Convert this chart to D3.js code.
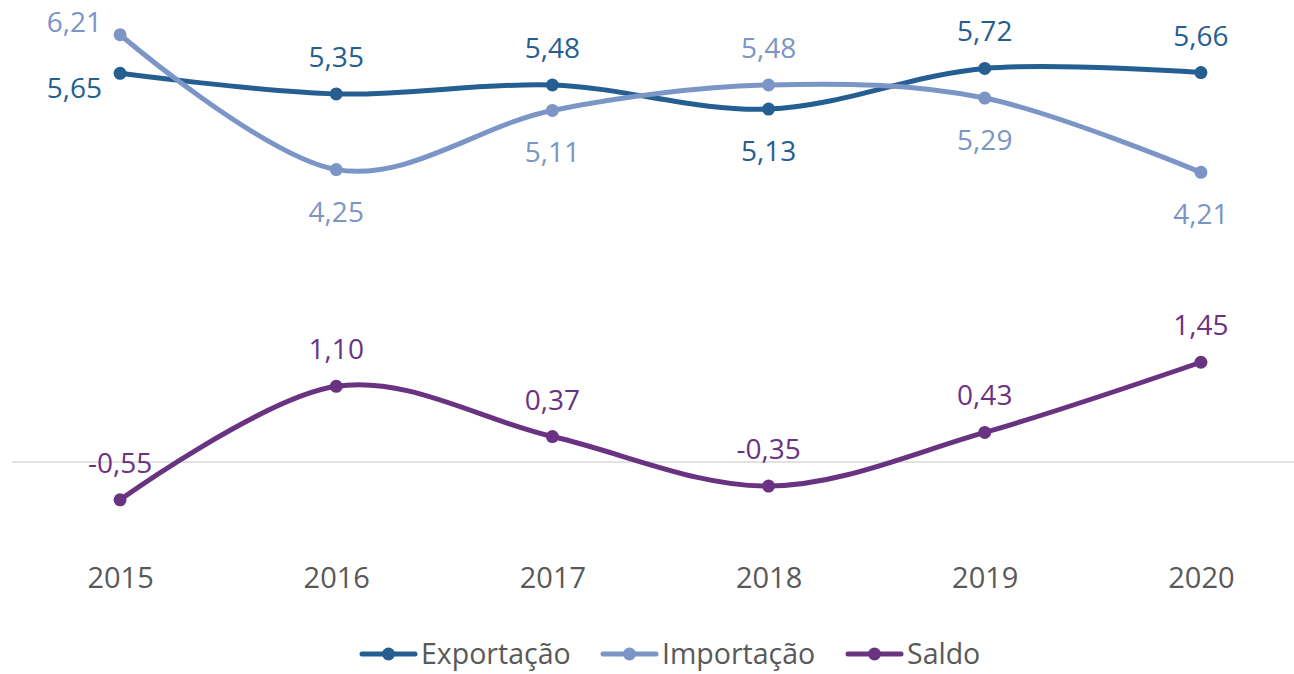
<!DOCTYPE html>
<html>
<head>
<meta charset="utf-8">
<script src="https://cdn.jsdelivr.net/npm/d3@7"></script>
<style>
  body { margin: 0; background: #fff; }
  svg { display: block; font-family: 'Open Sans', 'Noto Sans', sans-serif; }
</style>
</head>
<body>
<svg id="chart" width="1294" height="674"></svg>
<script>
const years = ['2015', '2016', '2017', '2018', '2019', '2020']
const exportacao = [5.65, 5.35, 5.48, 5.13, 5.72, 5.66]
const importacao = [6.21, 4.25, 5.11, 5.48, 5.29, 4.21]
const saldo = [-0.55, 1.10, 0.37, -0.35, 0.43, 1.45]
const seriesNames = ['Exportação', 'Importação', 'Saldo']
// where each data label sits relative to its point
const exportacaoPos = ['left', 'above', 'above', 'below', 'above', 'above']
const importacaoPos = ['leftUp', 'below', 'below', 'above', 'below', 'below']
const saldoPos = ['above', 'above', 'above', 'above', 'above', 'above']

const colors = ['#255e91', '#7b95c6', '#6a3382']
const width = 1294
const height = 674

const svg = d3.select('#chart')

const x = d3.scalePoint()
  .domain(years)
  .range([12, 1309])
  .padding(0.5)

const y = d3.scaleLinear()
  .domain([-1, 7])
  .range([530.8, -19.6])

const fmt = v => d3.format('.2f')(v).replace('.', ',').replace('−', '-')

// zero line
svg.append('line')
  .attr('x1', 12).attr('x2', width)
  .attr('y1', y(0)).attr('y2', y(0))
  .attr('stroke', '#d9d9d9')
  .attr('stroke-width', 1.5)

// x axis labels
const xAxis = d3.axisBottom(x).tickSize(0).tickPadding(0)
const gx = svg.append('g')
  .attr('transform', 'translate(0,578)')
  .call(xAxis)
gx.select('.domain').remove()
gx.selectAll('text')
  .attr('dy', '0.35em')
  .attr('fill', '#595959')
  .style('font-size', '29px')
  .style('font-family', "'Open Sans', sans-serif")

const series = [
  { name: seriesNames[0], values: exportacao, pos: exportacaoPos, color: colors[0] },
  { name: seriesNames[1], values: importacao, pos: importacaoPos, color: colors[1] },
  { name: seriesNames[2], values: saldo, pos: saldoPos, color: colors[2] }
]

const line = d3.line()
  .x((d, i) => x(years[i]))
  .y(d => y(d))
  .curve(d3.curveCatmullRom.alpha(0))

const gs = svg.selectAll('.series')
  .data(series)
  .enter().append('g')
  .attr('class', 'series')

gs.append('path')
  .attr('d', d => line(d.values))
  .attr('fill', 'none')
  .attr('stroke', d => d.color)
  .attr('stroke-width', 5)
  .attr('stroke-linecap', 'round')

gs.selectAll('circle')
  .data(d => d.values.map((v, i) => ({ v, i, color: d.color })))
  .enter().append('circle')
  .attr('cx', d => x(years[d.i]))
  .attr('cy', d => y(d.v))
  .attr('r', 6.5)
  .attr('fill', d => d.color)

const labelOffset = {
  above: { dx: 0, dy: -27, anchor: 'middle' },
  below: { dx: 0, dy: 52, anchor: 'middle' },
  left: { dx: -18, dy: 25, anchor: 'end' },
  leftUp: { dx: -18, dy: -3, anchor: 'end' }
}

gs.selectAll('text.label')
  .data(d => d.values.map((v, i) => ({ v, i, color: d.color, pos: d.pos[i] })))
  .enter().append('text')
  .attr('class', 'label')
  .attr('x', d => x(years[d.i]) + labelOffset[d.pos].dx)
  .attr('y', d => y(d.v) + labelOffset[d.pos].dy)
  .attr('text-anchor', d => labelOffset[d.pos].anchor)
  .attr('fill', d => d.color)
  .style('font-size', '28px')
  .text(d => fmt(d.v))

// legend
const legendX = [362, 603, 848]
const legend = svg.selectAll('.legend')
  .data(series)
  .enter().append('g')
  .attr('class', 'legend')
  .attr('transform', (d, i) => 'translate(' + legendX[i] + ',654)')

legend.append('line')
  .attr('x1', 0).attr('x2', 53)
  .attr('stroke', d => d.color)
  .attr('stroke-width', 5)
  .attr('stroke-linecap', 'round')

legend.append('circle')
  .attr('cx', 26.5)
  .attr('r', 6.5)
  .attr('fill', d => d.color)

legend.append('text')
  .attr('x', 59)
  .attr('dy', '0.35em')
  .attr('fill', '#595959')
  .style('font-size', '28.5px')
  .text(d => d.name)
</script>
</body>
</html>
